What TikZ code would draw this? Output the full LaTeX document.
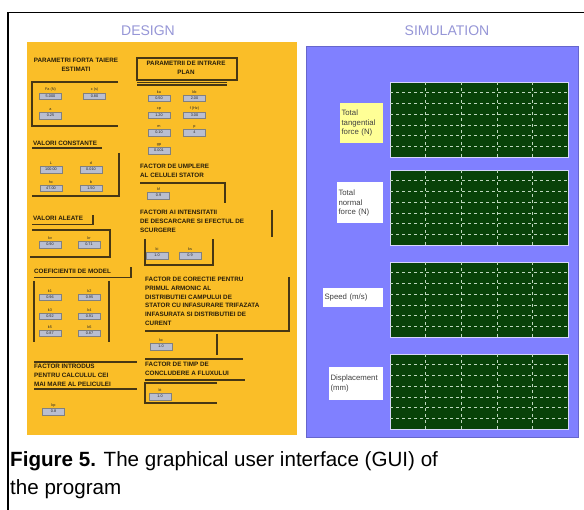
\documentclass[tikz,border=0pt]{standalone}
\usepackage{fontspec}
\setmainfont{Liberation Sans}
\usetikzlibrary{positioning}

\definecolor{panelyellow}{RGB}{250,190,40}
\definecolor{panelblue}{RGB}{128,128,255}
\definecolor{titlelav}{RGB}{150,150,215}
\definecolor{plotgreen}{RGB}{8,66,8}
\definecolor{plotedge}{RGB}{215,215,250}
\definecolor{gridline}{RGB}{190,215,190}
\definecolor{fieldgray}{RGB}{185,190,208}
\definecolor{framedark}{RGB}{70,55,20}
\definecolor{headtext}{RGB}{40,30,10}
\definecolor{labelyellow}{RGB}{255,255,150}

\begin{document}
\begin{tikzpicture}[x=1pt,y=-1pt,
  title/.style={font=\fontsize{14}{16}\selectfont, text=titlelav},
  head/.style={font=\fontsize{6.3}{8.8}\selectfont\bfseries, text=headtext, inner sep=0pt, align=left, anchor=north west},
  frame/.style={draw=framedark, line width=1.1pt},
  field/.style={draw=black!50, fill=fieldgray, line width=0.4pt, minimum width=22pt, minimum height=6.5pt, inner sep=0pt, font=\fontsize{3.8}{4}\selectfont, text=black!85},
  flabel/.style={font=\fontsize{3.8}{4}\selectfont, text=black!85, inner sep=0.2pt},
  plot/.style={fill=plotgreen, draw=plotedge, line width=1pt, minimum width=178pt, minimum height=75pt, inner sep=0pt, anchor=north west},
  grid/.style={gridline, dashed, line width=0.4pt},
  sig/.style={fill=white, font=\fontsize{7.8}{9.2}\selectfont, text=black!75, align=left, inner sep=1.5pt}]
\useasboundingbox (0,0) rectangle (584,510);
\fill[white] (0,0) rectangle (584,510);

% Outer frame
\draw[line width=1.5pt] (8,510) -- (8,12.5) -- (584,12.5);

% Panels
\fill[panelyellow] (27,42) rectangle (297,435);
\filldraw[fill=panelblue, draw=panelblue!80!black, line width=0.6pt] (306,46) rectangle (578,437);
\node[title] (design) at (148,31) {DESIGN};
\node[title] (simul) at (447,31) {SIMULATION};

% Headings (left column)
\node[head, align=center, anchor=north] (h1) at (76,58) {PARAMETRI FORTA TAIERE\\ESTIMATI};
\node[head] (h3) at (33,141) {VALORI CONSTANTE};
\node[head] (h4) at (33,216) {VALORI ALEATE};
\node[head] (h5) at (34,269) {COEFICIENTII DE MODEL};
\node[head] (h6) at (34,364) {FACTOR INTRODUS\\PENTRU CALCULUL CEI\\MAI MARE AL PELICULEI};

% Headings (right column)
\node[head, align=center, anchor=north] (h2) at (186,61) {PARAMETRII DE INTRARE\\PLAN};
\node[head] (h7) at (140,164) {FACTOR DE UMPLERE\\AL CELULEI STATOR};
\node[head] (h8) at (140,210) {FACTORI AI INTENSITATII\\DE DESCARCARE SI EFECTUL DE\\SCURGERE};
\node[head] (h9) at (145,277) {FACTOR DE CORECTIE PENTRU\\PRIMUL ARMONIC AL\\DISTRIBUTIEI CAMPULUI DE\\STATOR CU INFASURARE TRIFAZATA\\INFASURATA SI DISTRIBUTIEI DE\\CURENT};
\node[head] (h10) at (145,362) {FACTOR DE TIMP DE\\CONCLUDERE A FLUXULUI};

% Frames
\draw[frame] (118,82) -- (32,82) -- (32,126) -- (118,126);
\draw[frame] (137,58) rectangle (237,80);
\draw[frame] (137,82.5) -- (227,82.5);
\draw[frame] (137,85) -- (227,85);
\draw[frame] (32,148) -- (102,148);
\draw[frame] (119,153) -- (119,196) -- (32,196);
\draw[frame] (32,224.5) -- (93,224.5) -- (93,215);
\draw[frame] (32,230) -- (110,230) -- (110,257) -- (30,257);
\draw[frame] (34,277.5) -- (131,277.5) -- (131,267);
\draw[frame] (34,281) -- (34,342);
\draw[frame] (109,281) -- (109,342);
\draw[frame] (34,362) -- (137,362);
\draw[frame] (34,389) -- (137,389);
\draw[frame] (140,183) -- (225,183) -- (225,203);
\draw[frame] (272,210) -- (272,237);
\draw[frame] (145,239) -- (145,265) -- (213,265) -- (213,239);
\draw[frame] (289,277) -- (289,331) -- (145,331);
\draw[frame] (217,334) -- (217,355);
\draw[frame] (145,359) -- (243,359);
\draw[frame] (145,380) -- (245,380);
\draw[frame] (217,383) -- (145,383) -- (145,403) -- (217,403);

% Input fields
\foreach \n/\x/\y/\v/\l in {
  fa/50.5/96/5.000/Fa (N), fb/94.5/96/0.80/c (s), fc/50.5/115.5/0.25/a,
  fd/159/98/0.50/ka, fe/194.5/98/2.00/kb, ff/159/115/1.20/cp, fg/194.5/115/3.00/f (Hz),
  fh/159/132.5/0.10/m, fi/194.5/132.5/4/p, fj/159/150.5/0.001/gp,
  fk/51/169.5/100.00/L, fl/91/169.5/0.010/d, fm/51/188/47.00/hc, fn/91/188/1.50/b,
  fo/50/244.5/0.90/kv, fp/89/244.5/0.71/kr,
  fq/50/297/0.96/k1, fr/89.5/297/0.95/k2, fs/50/316/0.92/k3, ft/89.5/316/0.91/k4,
  fu/50/333/0.87/k5, fv/89.5/333/0.87/k6,
  fw/53.5/411.5/0.8/kp, fx/158.5/195.5/0.9/kf,
  fy/157/255.5/1.0/ki, fz/190/255.5/0.9/ks,
  fA/161/346.5/1.0/kc, fB/160/396.5/1.0/kt}{
  \node[field] (\n) at (\x,\y) {\v};
  \node[flabel, above=0.8pt of \n] (\n l) {\l};
}

% Plots with grid
\foreach \n/\y in {pa/82, pb/170, pc/262, pd/354}{
  \node[plot] (\n) at (390,\y) {};
  \foreach \k in {1,...,4}
    \draw[grid] ({390+35.6*\k},\y) -- ++(0,75);
  \foreach \k in {1,...,6}
    \draw[grid] (390,{\y+10.7*\k}) -- ++(178,0);
}

% Signal labels
\node[sig, fill=labelyellow, text width=40pt, minimum height=40pt] (ta) at (361.5,123) {Total\\tangential\\force (N)};
\node[sig, text width=43pt, minimum height=41pt] (tb) at (360,203) {Total\\normal\\force (N)};
\node[sig, text width=57pt, minimum height=19pt] (tc) at (353,297.5) {Speed (m/s)};
\node[sig, text width=51pt, minimum height=33pt] (td) at (356,383.5) {Displacement\\(mm)};

% Caption
\node[anchor=base west, inner sep=0pt, font=\fontsize{20.6}{24}\selectfont] (cap1) at (10,467) {\textbf{Figure 5.} The graphical user interface (GUI) of};
\node[anchor=base west, inner sep=0pt, font=\fontsize{20.6}{24}\selectfont] (cap2) at (10,495) {the program};
\end{tikzpicture}
\end{document}
